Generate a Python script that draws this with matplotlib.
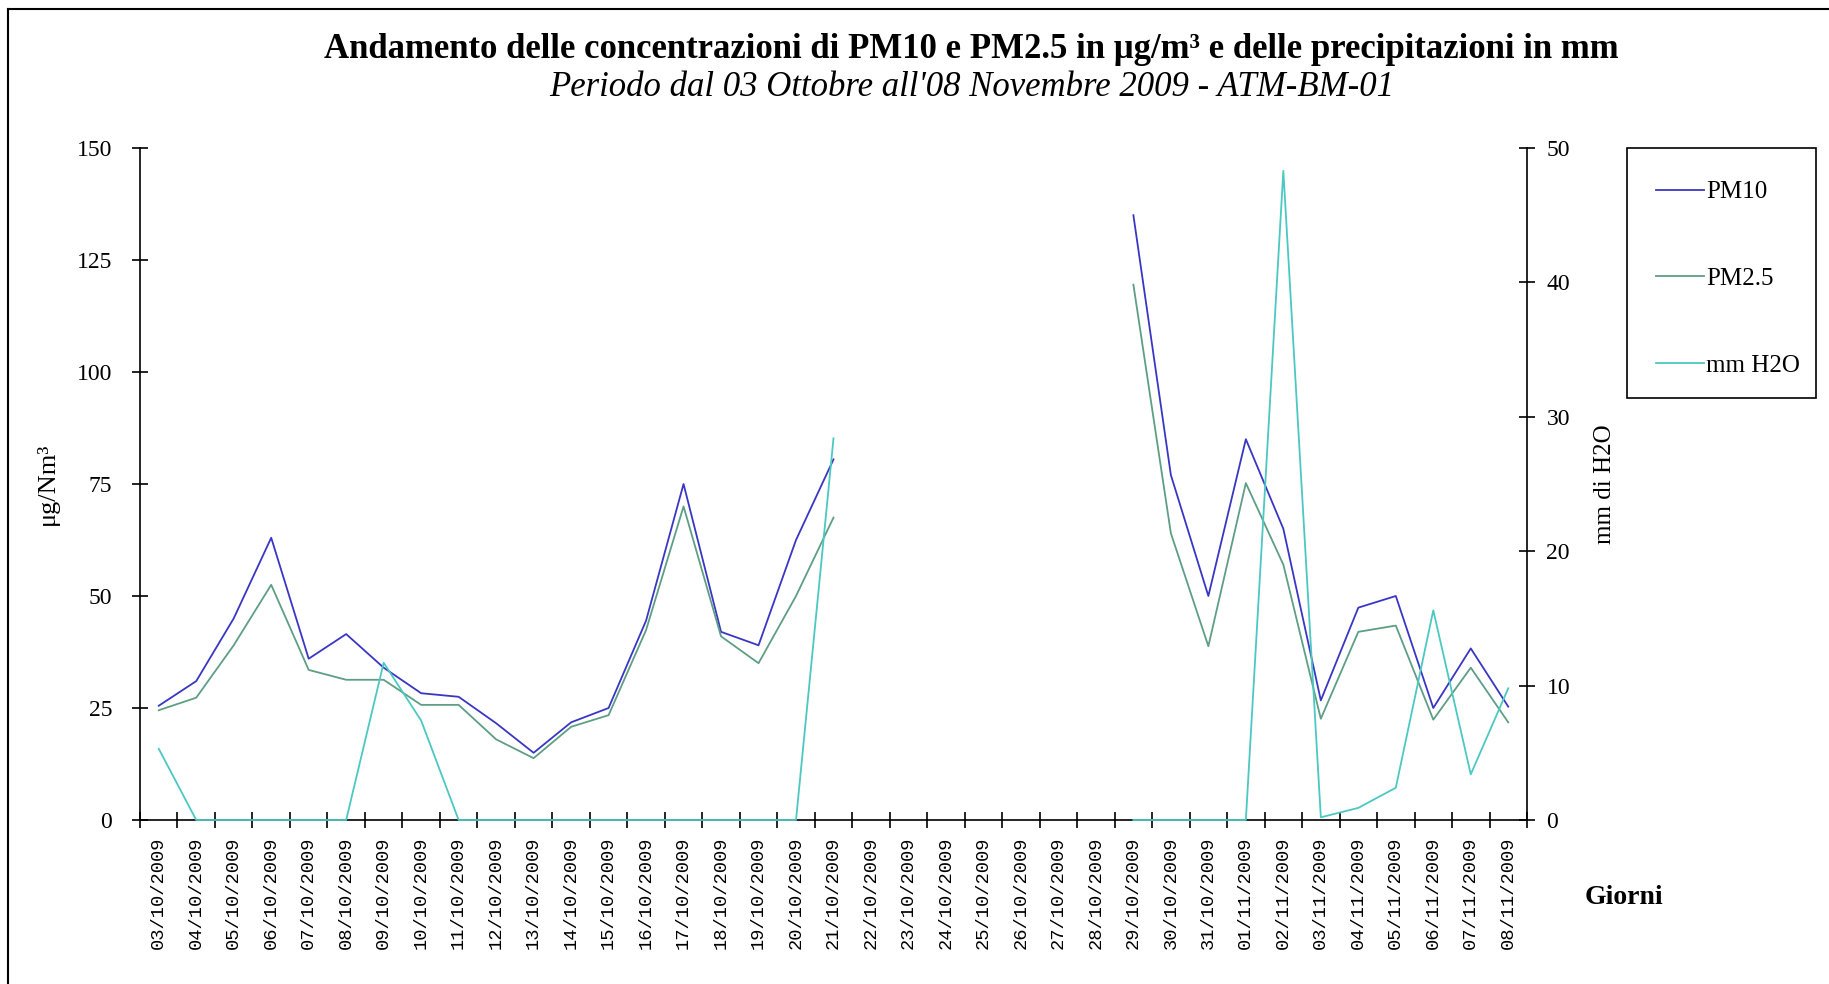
import numpy as np
import matplotlib
matplotlib.use("Agg")
import matplotlib.pyplot as plt
from matplotlib.lines import Line2D
from matplotlib.patches import Rectangle

# Dati (NaN = giorni senza misura)
giorni = ["03/10/2009", "04/10/2009", "05/10/2009", "06/10/2009", "07/10/2009",
          "08/10/2009", "09/10/2009", "10/10/2009", "11/10/2009", "12/10/2009",
          "13/10/2009", "14/10/2009", "15/10/2009", "16/10/2009", "17/10/2009",
          "18/10/2009", "19/10/2009", "20/10/2009", "21/10/2009", "22/10/2009",
          "23/10/2009", "24/10/2009", "25/10/2009", "26/10/2009", "27/10/2009",
          "28/10/2009", "29/10/2009", "30/10/2009", "31/10/2009", "01/11/2009",
          "02/11/2009", "03/11/2009", "04/11/2009", "05/11/2009", "06/11/2009",
          "07/11/2009", "08/11/2009"]

nan = np.nan
pm10 = [25.5, 31, 45, 63, 36, 41.5, 34, 28.3, 27.5, 21.6, 15, 21.8, 25, 44.5, 75,
        42, 39, 62.5, 80.5, nan, nan, nan, nan, nan, nan, nan,
        135, 77, 50, 85, 65, 26.7, 47.4, 50, 25, 38.3, 25.3]
pm25 = [24.5, 27.3, 39, 52.5, 33.5, 31.3, 31.3, 25.7, 25.7, 18, 13.8, 20.8, 23.4, 42.4, 70,
        41, 35, 50, 67.5, nan, nan, nan, nan, nan, nan, nan,
        119.5, 64, 38.8, 75.2, 57, 22.6, 42, 43.4, 22.4, 34, 21.8]
h2o = [5.3, 0, 0, 0, 0, 0, 11.7, 7.4, 0, 0, 0, 0, 0, 0, 0,
       0, 0, 0, 28.4, nan, nan, nan, nan, nan, nan, nan,
       0, 0, 0, 0, 48.3, 0.2, 0.9, 2.4, 15.6, 3.4, 9.8]

c_pm10 = "#3a36c4"
c_pm25 = "#5e9e84"
c_h2o = "#4cc8c2"

W, H = 1829, 984
fig = plt.figure(figsize=(W / 100, H / 100), dpi=100)
ax = fig.add_axes([140 / W, 1 - 820 / H, (1527 - 140) / W, (820 - 148) / H])
ax2 = ax.twinx()

x = np.arange(len(giorni))
ax.plot(x, pm10, color=c_pm10, lw=1.3, clip_on=False)
ax.plot(x, pm25, color=c_pm25, lw=1.3, clip_on=False)
ax2.plot(x, h2o, color=c_h2o, lw=1.3, clip_on=False, zorder=5)

ax.set_xlim(-0.5, len(giorni) - 0.5)
ax.set_ylim(0, 150)
ax2.set_ylim(0, 50)

serif = "Liberation Serif"
for a in (ax, ax2):
    a.spines["top"].set_visible(False)
ax.spines["right"].set_visible(False)
ax2.spines["left"].set_visible(False)
ax2.spines["bottom"].set_visible(False)
for s in ("left", "bottom"):
    ax.spines[s].set_linewidth(1.2)
ax2.spines["right"].set_linewidth(1.2)

ax.set_yticks(np.arange(0, 151, 25))
ax2.set_yticks(np.arange(0, 51, 10))
ax.tick_params(axis="y", direction="inout", length=12, width=1.2, pad=14, labelsize=17)
ax2.tick_params(axis="y", direction="inout", length=12, width=1.2, pad=8, labelsize=17)
for lab in ax.get_yticklabels() + ax2.get_yticklabels():
    lab.set_fontfamily(serif)

# tacche tra le categorie, etichette al centro
ax.set_xticks(np.arange(len(giorni) + 1) - 0.5)
ax.set_xticklabels([])
ax.tick_params(axis="x", which="major", direction="inout", length=12, width=1.2)
ax.set_xticks(x, minor=True)
ax.set_xticklabels(giorni, minor=True, rotation=90, fontsize=13.5,
                   fontfamily="Liberation Mono")
ax.tick_params(axis="x", which="minor", length=0, pad=12)

ax.set_ylabel("μg/Nm³", fontfamily=serif, fontsize=19, labelpad=13)
ax2.set_ylabel("mm di H2O", fontfamily=serif, fontsize=18, labelpad=17)

fig.text(1624 / W, 1 - 898 / H, "Giorni", fontfamily=serif, fontsize=20,
         fontweight="bold", ha="center", va="center")

fig.text(0.5 * (268 + 1397) * 1.1665 / W, 1 - 49 / H,
         "Andamento delle concentrazioni di PM10 e PM2.5 in μg/m³ e delle precipitazioni in mm",
         fontfamily=serif, fontsize=25, fontweight="bold", ha="center", va="center")
fig.text(0.5 * (466 + 1200) * 1.1665 / W, 1 - 87 / H,
         "Periodo dal 03 Ottobre all'08 Novembre 2009 - ATM-BM-01",
         fontfamily=serif, fontsize=25, style="italic", ha="center", va="center")

# legenda con cornice disegnata a parte
handles = [Line2D([], [], color=c, lw=1.3) for c in (c_pm10, c_pm25, c_h2o)]
fig.legend(handles, ["PM10", "PM2.5", "mm H2O"], loc="upper left",
           bbox_to_anchor=(1656 / W, 1 - 181 / H), frameon=False,
           prop={"family": serif, "size": 18},
           handlelength=1.9, handletextpad=0.1, labelspacing=2.56,
           borderpad=0, borderaxespad=0)
fig.add_artist(Rectangle((1627 / W, 1 - 398 / H), (1816 - 1627) / W, (398 - 148) / H,
                         transform=fig.transFigure, fill=False, edgecolor="black", lw=1.2))

# cornice esterna (sinistra e alto)
fig.add_artist(Line2D([8 / W, 8 / W], [0, 1 - 9 / H], color="black", lw=1.5))
fig.add_artist(Line2D([8 / W, 1], [1 - 9 / H, 1 - 9 / H], color="black", lw=1.5))

fig.savefig("out.png", dpi=100)
